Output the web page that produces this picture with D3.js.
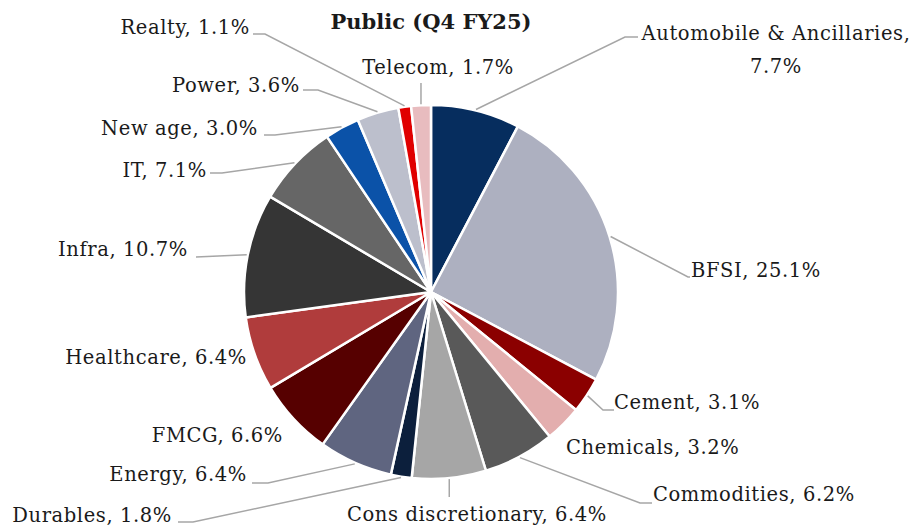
<!DOCTYPE html>
<html>
<head>
<meta charset="utf-8">
<script src="https://cdn.jsdelivr.net/npm/d3@7"></script>
<style>
  body { margin: 0; background: #fff; }
  svg { display: block; }
  text { font-family: "DejaVu Serif", serif; fill: #1a1a1a; }
</style>
</head>
<body>
<svg id="pie-plot" width="918" height="530" viewBox="0 0 918 530"></svg>
<script>
// sectors, clockwise from 12 o'clock
const sectors = ["Automobile & Ancillaries", "BFSI", "Cement", "Chemicals", "Commodities",
	"Cons discretionary", "Durables", "Energy", "FMCG", "Healthcare", "Infra", "IT",
	"New age", "Power", "Realty", "Telecom"];
const shares = [7.7, 25.1, 3.1, 3.2, 6.2, 6.4, 1.8, 6.4, 6.6, 6.4, 10.7, 7.1, 3.0, 3.6, 1.1, 1.7];
const colours = ["#062d5e", "#adb0c0", "#8b0000", "#e3aeae", "#595959", "#a6a6a6", "#0c1f3c",
	"#5f6580", "#560000", "#b03c3c", "#353535", "#666666", "#0b52a8", "#bcbfcc", "#e00000", "#e8bcbf"];
const title = "Public (Q4 FY25)";

// where each label sits (x, baseline y, anchor) and the elbow of its leader line (null = no leader)
const label_layout = [
	{ x: 776, y: 40, anchor: "middle", lines: 2, elbow: [625, 37], end: [638, 37] },
	{ x: 691, y: 277, anchor: "start", elbow: [688, 277], end: [690, 277] },
	{ x: 614, y: 409, anchor: "start", elbow: [603, 410], end: [614, 410] },
	{ x: 566, y: 454, anchor: "start", elbow: null },
	{ x: 653, y: 501, anchor: "start", elbow: [640, 503], end: [652, 503] },
	{ x: 477, y: 521, anchor: "middle", elbow: [449, 497], end: [449, 497], vertical: true },
	{ x: 172, y: 522, anchor: "end", elbow: [193, 522], end: [178, 522] },
	{ x: 247, y: 481, anchor: "end", elbow: [268, 483], end: [252, 483] },
	{ x: 283, y: 442, anchor: "end", elbow: null },
	{ x: 247, y: 364, anchor: "end", elbow: null },
	{ x: 188, y: 256, anchor: "end", elbow: [196, 257], end: [196, 257] },
	{ x: 207, y: 177, anchor: "end", elbow: [222, 173], end: [210, 173] },
	{ x: 258, y: 135, anchor: "end", elbow: [275, 135], end: [264, 135] },
	{ x: 300, y: 92, anchor: "end", elbow: [318, 90], end: [303, 90] },
	{ x: 250, y: 34, anchor: "end", elbow: [265, 34], end: [253, 34] },
	{ x: 438, y: 74, anchor: "middle", elbow: [421, 83], end: [421, 83], vertical: true }
];

const svg = d3.select("#pie-plot");
const cx = 431, cy = 292, radius = 187;

const pie = d3.pie().sort(null).value(d => d.value);
const arcs = pie(sectors.map((s, i) => ({ name: s, value: shares[i], colour: colours[i], layout: label_layout[i] })));

const arc = d3.arc().innerRadius(0).outerRadius(radius);
const edge_arc = d3.arc().innerRadius(radius + 1).outerRadius(radius + 1);

const g = svg.append("g").attr("transform", `translate(${cx},${cy})`);

g.selectAll("path.slice")
	.data(arcs)
	.enter().append("path")
	.attr("class", "slice")
	.attr("d", arc)
	.attr("fill", d => d.data.colour)
	.attr("stroke", "#fff")
	.attr("stroke-width", 2.5)
	.attr("stroke-linejoin", "round");

// leader lines
const line = d3.line();
svg.selectAll("path.leader")
	.data(arcs.filter(d => d.data.layout.elbow))
	.enter().append("path")
	.attr("class", "leader")
	.attr("d", d => {
		const c = edge_arc.centroid(d);
		const start = [cx + c[0], cy + c[1]];
		const L = d.data.layout;
		if (L.vertical) return line([[start[0], start[1]], [start[0], L.end[1]]]);
		return line([start, L.elbow, L.end]);
	})
	.attr("fill", "none")
	.attr("stroke", "#a6a6a6")
	.attr("stroke-width", 1.5);

// labels
const labels = svg.selectAll("text.label")
	.data(arcs)
	.enter().append("text")
	.attr("class", "label")
	.attr("x", d => d.data.layout.x)
	.attr("y", d => d.data.layout.y)
	.attr("text-anchor", d => d.data.layout.anchor)
	.style("font-size", "19.5px")
	.style("letter-spacing", "0.6px");

labels.each(function (d) {
	const t = d3.select(this);
	const txt = d.data.value.toFixed(1) + "%";
	if (d.data.layout.lines === 2) {
		t.append("tspan").attr("x", d.data.layout.x).text(d.data.name + ",");
		t.append("tspan").attr("x", d.data.layout.x).attr("dy", 33).text(txt);
	} else {
		t.text(d.data.name + ", " + txt);
	}
});

svg.append("text")
	.attr("x", 431)
	.attr("y", 29)
	.attr("text-anchor", "middle")
	.style("font-size", "21px")
	.style("font-weight", "bold")
	.text(title);
</script>
</body>
</html>
